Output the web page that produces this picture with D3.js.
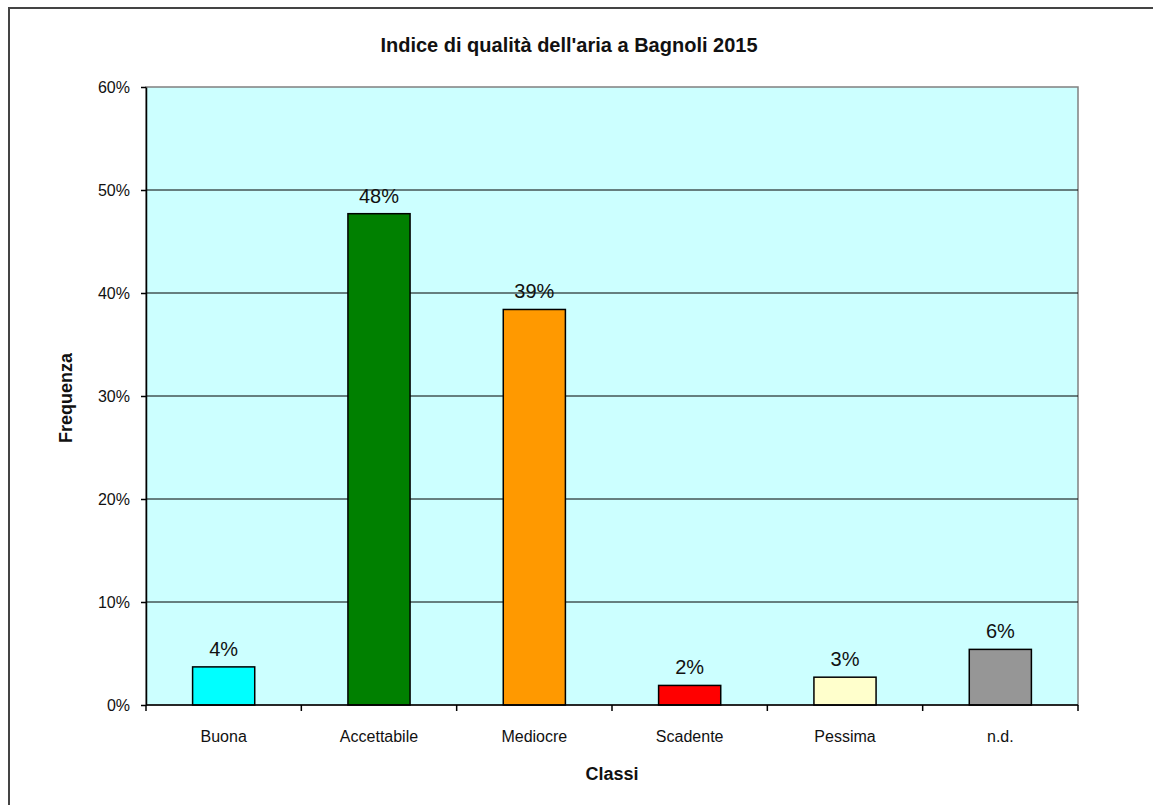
<!DOCTYPE html>
<html>
<head>
<meta charset="utf-8">
<script src="https://cdn.jsdelivr.net/npm/d3@7"></script>
<style>
  body { margin: 0; background: #fff; }
  svg { display: block; font-family: "Liberation Sans", Arial, sans-serif; }
</style>
</head>
<body>
<svg id="chart" width="1153" height="805"></svg>
<script>
// data
const categories = ["Buona", "Accettabile", "Mediocre", "Scadente", "Pessima", "n.d."];
const values = [0.037, 0.477, 0.384, 0.019, 0.027, 0.054];
const barLabels = ["4%", "48%", "39%", "2%", "3%", "6%"];
const barColors = ["#00FFFF", "#008000", "#FF9900", "#FF0000", "#FFFFCC", "#969696"];
const yTicks = [0, 0.1, 0.2, 0.3, 0.4, 0.5, 0.6];

const svg = d3.select("#chart");

// outer chart border
svg.append("rect")
    .attr("x", 9).attr("y", 8)
    .attr("width", 1160).attr("height", 820)
    .attr("fill", "none")
    .attr("stroke", "#444")
    .attr("stroke-width", 2);

const margin = { left: 146, top: 87, right: 1078, bottom: 705 };

const x = d3.scaleBand()
    .domain(categories)
    .range([margin.left, margin.right])
    .paddingInner(0.6)
    .paddingOuter(0.3);

const y = d3.scaleLinear()
    .domain([0, 0.6])
    .range([margin.bottom, margin.top]);

// plot background
svg.append("rect")
    .attr("x", margin.left).attr("y", margin.top)
    .attr("width", margin.right - margin.left)
    .attr("height", margin.bottom - margin.top)
    .attr("fill", "#CCFFFF")
    .attr("stroke", "#808080")
    .attr("stroke-width", 1.5);

// gridlines
svg.append("g")
    .selectAll("line")
    .data(yTicks.filter(d => d > 0 && d < 0.6))
    .join("line")
    .attr("x1", margin.left).attr("x2", margin.right)
    .attr("y1", d => y(d)).attr("y2", d => y(d))
    .attr("stroke", "#000")
    .attr("stroke-width", 1);

// bars
svg.append("g")
    .selectAll("rect")
    .data(values)
    .join("rect")
    .attr("x", (d, i) => x(categories[i]))
    .attr("y", d => y(d))
    .attr("width", x.bandwidth())
    .attr("height", d => y(0) - y(d))
    .attr("fill", (d, i) => barColors[i])
    .attr("stroke", "#000")
    .attr("stroke-width", 1.5);

// value labels
svg.append("g")
    .selectAll("text")
    .data(values)
    .join("text")
    .attr("x", (d, i) => x(categories[i]) + x.bandwidth() / 2)
    .attr("y", d => y(d) - 11)
    .attr("text-anchor", "middle")
    .attr("font-size", 20)
    .attr("fill", "#111")
    .text((d, i) => barLabels[i]);

// y axis
const yAxis = svg.append("g")
    .attr("transform", `translate(${margin.left},0)`)
    .call(d3.axisLeft(y).tickValues(yTicks).tickFormat(d3.format(".0%")).tickSize(5).tickSizeOuter(0).tickPadding(11));
yAxis.select(".domain").attr("stroke", "#000").attr("stroke-width", 1.5);
yAxis.selectAll(".tick line").attr("stroke", "#000").attr("stroke-width", 1.5);
yAxis.selectAll(".tick text").attr("font-size", 16).attr("fill", "#111")
    .attr("font-family", "Liberation Sans, Arial, sans-serif");

// x axis with ticks at category boundaries
const bounds = d3.range(categories.length + 1).map(i => margin.left + i * (margin.right - margin.left) / categories.length);
const xAxis = svg.append("g");
xAxis.append("line")
    .attr("x1", margin.left).attr("x2", margin.right)
    .attr("y1", margin.bottom).attr("y2", margin.bottom)
    .attr("stroke", "#000").attr("stroke-width", 1.5);
xAxis.selectAll("line.tk")
    .data(bounds)
    .join("line")
    .attr("class", "tk")
    .attr("x1", d => d).attr("x2", d => d)
    .attr("y1", margin.bottom).attr("y2", margin.bottom + 6)
    .attr("stroke", "#000").attr("stroke-width", 1.5);
xAxis.selectAll("text")
    .data(categories)
    .join("text")
    .attr("x", d => x(d) + x.bandwidth() / 2)
    .attr("y", 742)
    .attr("text-anchor", "middle")
    .attr("font-size", 16)
    .attr("fill", "#111")
    .text(d => d);

// titles
svg.append("text")
    .attr("x", 569).attr("y", 52)
    .attr("text-anchor", "middle")
    .attr("font-size", 20)
    .attr("font-weight", "bold")
    .attr("fill", "#111")
    .text("Indice di qualità dell'aria a Bagnoli 2015");

svg.append("text")
    .attr("x", 612).attr("y", 780)
    .attr("text-anchor", "middle")
    .attr("font-size", 18)
    .attr("font-weight", "bold")
    .attr("fill", "#111")
    .text("Classi");

svg.append("text")
    .attr("transform", "translate(72,398) rotate(-90)")
    .attr("text-anchor", "middle")
    .attr("font-size", 18)
    .attr("font-weight", "bold")
    .attr("fill", "#111")
    .text("Frequenza");
</script>
</body>
</html>
